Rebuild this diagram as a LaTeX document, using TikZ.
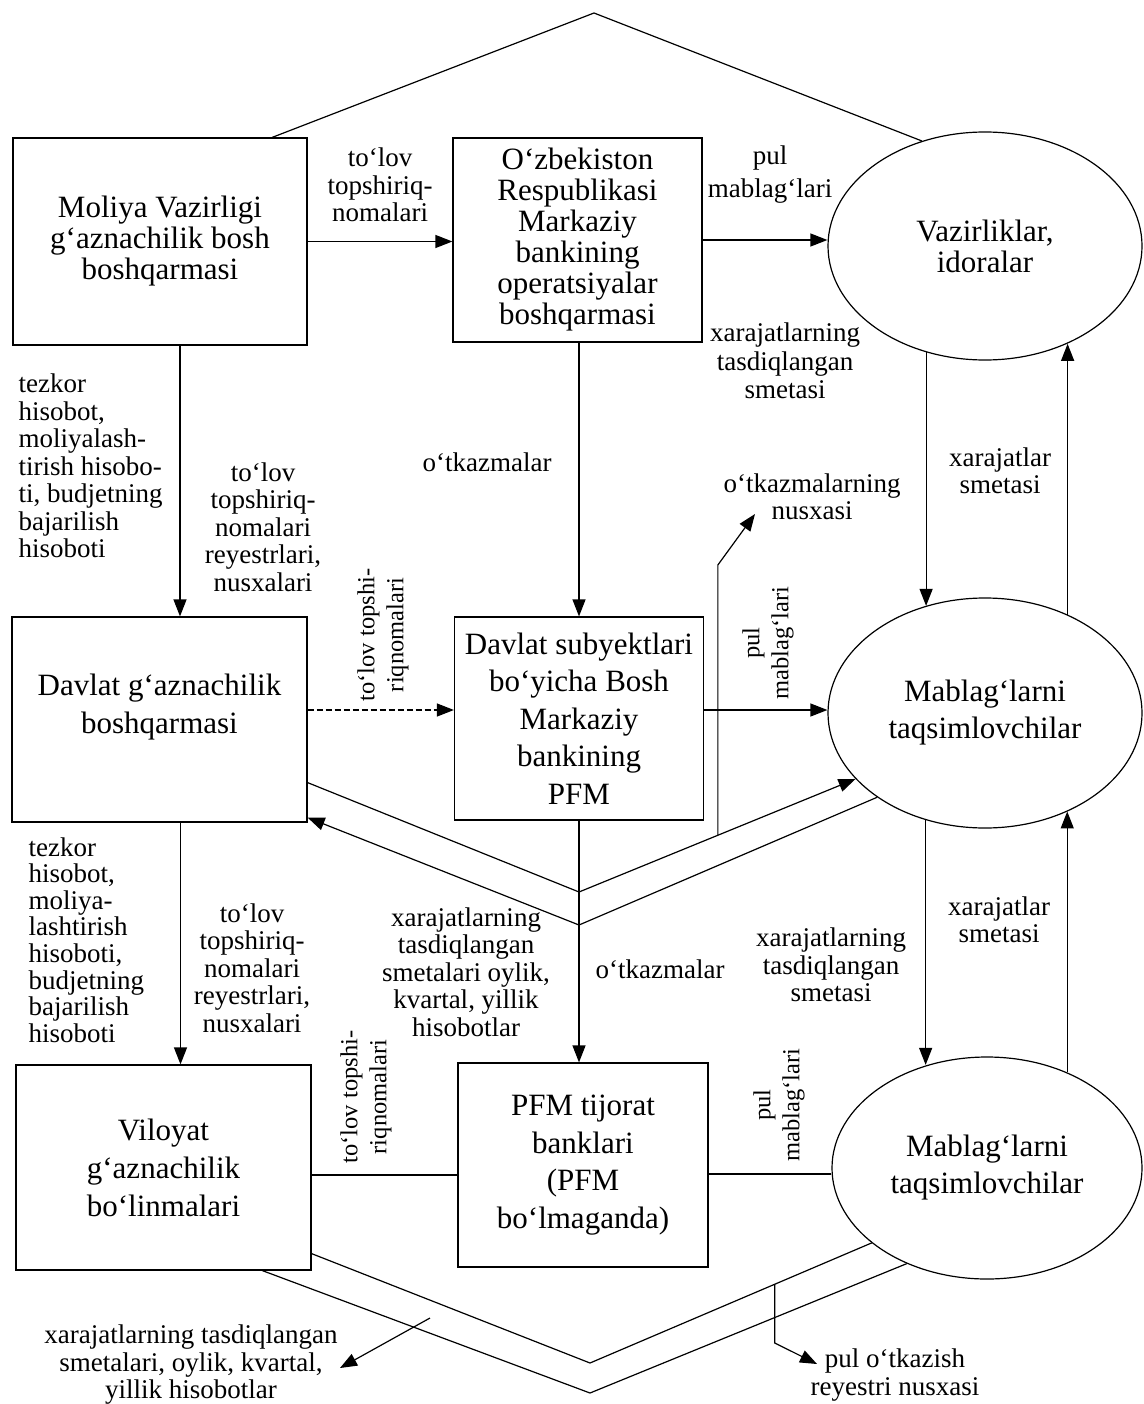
\documentclass[tikz,border=0pt]{standalone}
\usepackage{fontspec}
\setmainfont{Liberation Serif}
\usetikzlibrary{arrows.meta,calc,shapes.geometric}
\begin{document}
\begin{tikzpicture}[x=1pt,y=-1pt,
  line width=1.2pt,
  box/.style={draw, rectangle, inner sep=0pt, align=center, font=\fontsize{31}{31}\selectfont},
  boxtxt/.style={inner sep=0pt, align=center, font=\fontsize{31}{38}\selectfont},
  ell/.style={draw, ellipse, inner sep=0pt, align=center, font=\fontsize{31}{37}\selectfont},
  lbl/.style={align=center, inner sep=0pt, font=\fontsize{27}{27.5}\selectfont},
  rlbl/.style={lbl, rotate=90, font=\fontsize{24.5}{29}\selectfont},
  arr/.style={-{Triangle[length=17pt,width=13pt]}},
]
\useasboundingbox (0,0) rectangle (1143,1404);

% ---------- nodes ----------
\node[box, minimum width=294pt, minimum height=207pt] (mol) at (160,241.5)
  {Moliya Vazirligi\\g‘aznachilik bosh\\boshqarmasi};
\node[box, minimum width=249pt, minimum height=204pt] (oz) at (577.5,240)
  {O‘zbekiston\\Respublikasi\\Markaziy\\bankining\\operatsiyalar\\boshqarmasi};
\node[ell, minimum width=314pt, minimum height=228pt, font=\fontsize{31}{31}\selectfont] (vaz) at (985,246)
  {Vazirliklar,\\idoralar};

\node[box, minimum width=295pt, minimum height=205pt] (dgb) at (159.5,719.5) {};
\node[boxtxt] (dgbt) at ($(dgb.center)+(0,-12)$) {Davlat g‘aznachilik\\boshqarmasi};
\node[box, minimum width=249pt, minimum height=203pt, font=\fontsize{31}{37.5}\selectfont] (dsb) at (579,718.5)
  {Davlat subyektlari\\bo‘yicha Bosh\\Markaziy\\bankining\\PFM};
\node[ell, minimum width=314pt, minimum height=230pt] (mab1) at (985,713)
  {Mablag‘larni\\taqsimlovchilar};

\node[box, minimum width=295pt, minimum height=205pt, font=\fontsize{31}{38}\selectfont] (vil) at (163.5,1167.5)
  {Viloyat\\g‘aznachilik\\bo‘linmalari};
\node[box, minimum width=250pt, minimum height=204pt, font=\fontsize{31}{37.5}\selectfont] (pfm) at (583,1165)
  {PFM tijorat\\banklari\\(PFM\\bo‘lmaganda)};
\node[ell, minimum width=310pt, minimum height=222pt] (mab2) at (987,1168)
  {Mablag‘larni\\taqsimlovchilar};

% ---------- coordinates ----------
\coordinate (apex) at (594,13);
\coordinate (m1) at ($(mol.south)+(20,0)$);
\coordinate (m2) at ($(dgb.south)+(21,0)$);
\coordinate (d1) at ($(dgb.east)+(0,-9.5)$);
\coordinate (d2) at ($(dsb.east)+(0,-8.5)$);
\coordinate (d3) at ($(vil.east)+(0,7.5)$);
\coordinate (d4) at ($(pfm.east)+(0,9)$);
\coordinate (P1) at ($(dgb.south east)+(0,-40)$);
\coordinate (P2) at ($(dgb.south east)+(0,-5)$);
\coordinate (V1) at (579,892);
\coordinate (V2) at (579,925);
\coordinate (P3) at ($(vil.south east)+(0,-17)$);
\coordinate (P4) at ($(vil.south west)+(247,0)$);
\coordinate (V3) at (590,1363);
\coordinate (V4) at (590,1393);
\coordinate (b1s) at ($(V1)!0.502!(mab1.207)$);
\coordinate (b1c) at (718,565);
\coordinate (b1t) at (755,514);
\coordinate (b2s) at ($(V3)!0.656!(mab2.213)$);
\coordinate (b2c) at (775,1343);
\coordinate (b2t) at (817,1364);
\coordinate (b3s) at (430,1318);
\coordinate (b3t) at (340,1368);

% ---------- connectors ----------
\draw ($(mol.north west)!0.88!(mol.north east)$) -- (apex) -- (vaz.121);
\draw[arr] (mol.east) -- (mol.east -| oz.west);
\draw[arr] (oz.east) -- (oz.east -| vaz.west);
\draw[arr] (m1) -- (m1 |- dgb.north);
\draw[arr] (dsb.north |- oz.south) -- (dsb.north);
\draw[arr] (m2) -- (m2 |- vil.north);
\draw[arr] (dsb.south) -- (dsb.south |- pfm.north);
\draw[arr, dash pattern=on 6pt off 3pt] (d1) -- (d1 -| dsb.west);
\draw[arr] (d2) -- (d2 -| mab1.west);
\draw (d3) -- (d3 -| pfm.west);
\draw (d4) -- (d4 -| mab2.west);

\draw[arr] (vaz.241) -- (vaz.241 |- mab1.119);
\draw[arr] (mab1.50) -- (mab1.50 |- vaz.310);
\draw[arr] (mab1.241) -- (mab1.241 |- mab2.120);
\draw[arr] (mab2.50) -- (mab2.50 |- mab1.310);

\draw[arr] (P1) -- (V1) -- (mab1.207);
\draw[arr] (mab1.218) -- (V2) -- (P2);
\draw (P3) -- (V3) -- (mab2.213);
\draw (P4) -- (V4) -- (mab2.230);

\draw[arr] (b1s) -- (b1s |- b1c) -- (b1t);
\draw[arr] (b2s) -- (b2s |- b2c) -- (b2t);
\draw[arr] (b3s) -- (b3t);

% ---------- labels ----------
\node[lbl] (l1) at (380,185) {to‘lov\\topshiriq-\\nomalari};
\node[lbl, font=\fontsize{27}{33}\selectfont] (l2) at (770,175) {pul\\mablag‘lari};
\node[lbl, font=\fontsize{27}{28.5}\selectfont] (l3) at (785,361) {xarajatlarning\\tasdiqlangan\\smetasi};
\node[lbl, align=left, anchor=west] (l4) at (18,466) {tezkor\\hisobot,\\moliyalash-\\tirish hisobo-\\ti, budjetning\\bajarilish\\hisoboti};
\node[lbl] (l5) at (263,527) {to‘lov\\topshiriq-\\nomalari\\reyestrlari,\\nusxalari};
\node[lbl] (l6) at (487,462) {o‘tkazmalar};
\node[lbl] (l7) at (1000,471) {xarajatlar\\smetasi};
\node[lbl] (l8) at (812,497) {o‘tkazmalarning\\nusxasi};
\node[rlbl] (l9) at (383,635) {to‘lov topshi-\\riqnomalari};
\node[rlbl] (l10) at (768,643) {pul\\mablag‘lari};
\node[lbl, align=left, anchor=west, font=\fontsize{27}{26.6}\selectfont] (l11) at (28,940) {tezkor\\hisobot,\\moliya-\\lashtirish\\hisoboti,\\budjetning\\bajarilish\\hisoboti};
\node[lbl] (l12) at (252,968) {to‘lov\\topshiriq-\\nomalari\\reyestrlari,\\nusxalari};
\node[lbl] (l13) at (466,972) {xarajatlarning\\tasdiqlangan\\smetalari oylik,\\kvartal, yillik\\hisobotlar};
\node[lbl] (l14) at (660,969) {o‘tkazmalar};
\node[lbl] (l15) at (831,965) {xarajatlarning\\tasdiqlangan\\smetasi};
\node[lbl] (l16) at (999,920) {xarajatlar\\smetasi};
\node[rlbl] (l17) at (366,1097) {to‘lov topshi-\\riqnomalari};
\node[rlbl] (l18) at (779,1105) {pul\\mablag‘lari};
\node[lbl] (l19) at (191,1365) {xarajatlarning tasdiqlangan\\smetalari, oylik, kvartal,\\yillik hisobotlar};
\node[lbl] (l20) at (895,1375) {pul o‘tkazish\\reyestri nusxasi};
\end{tikzpicture}
\end{document}
